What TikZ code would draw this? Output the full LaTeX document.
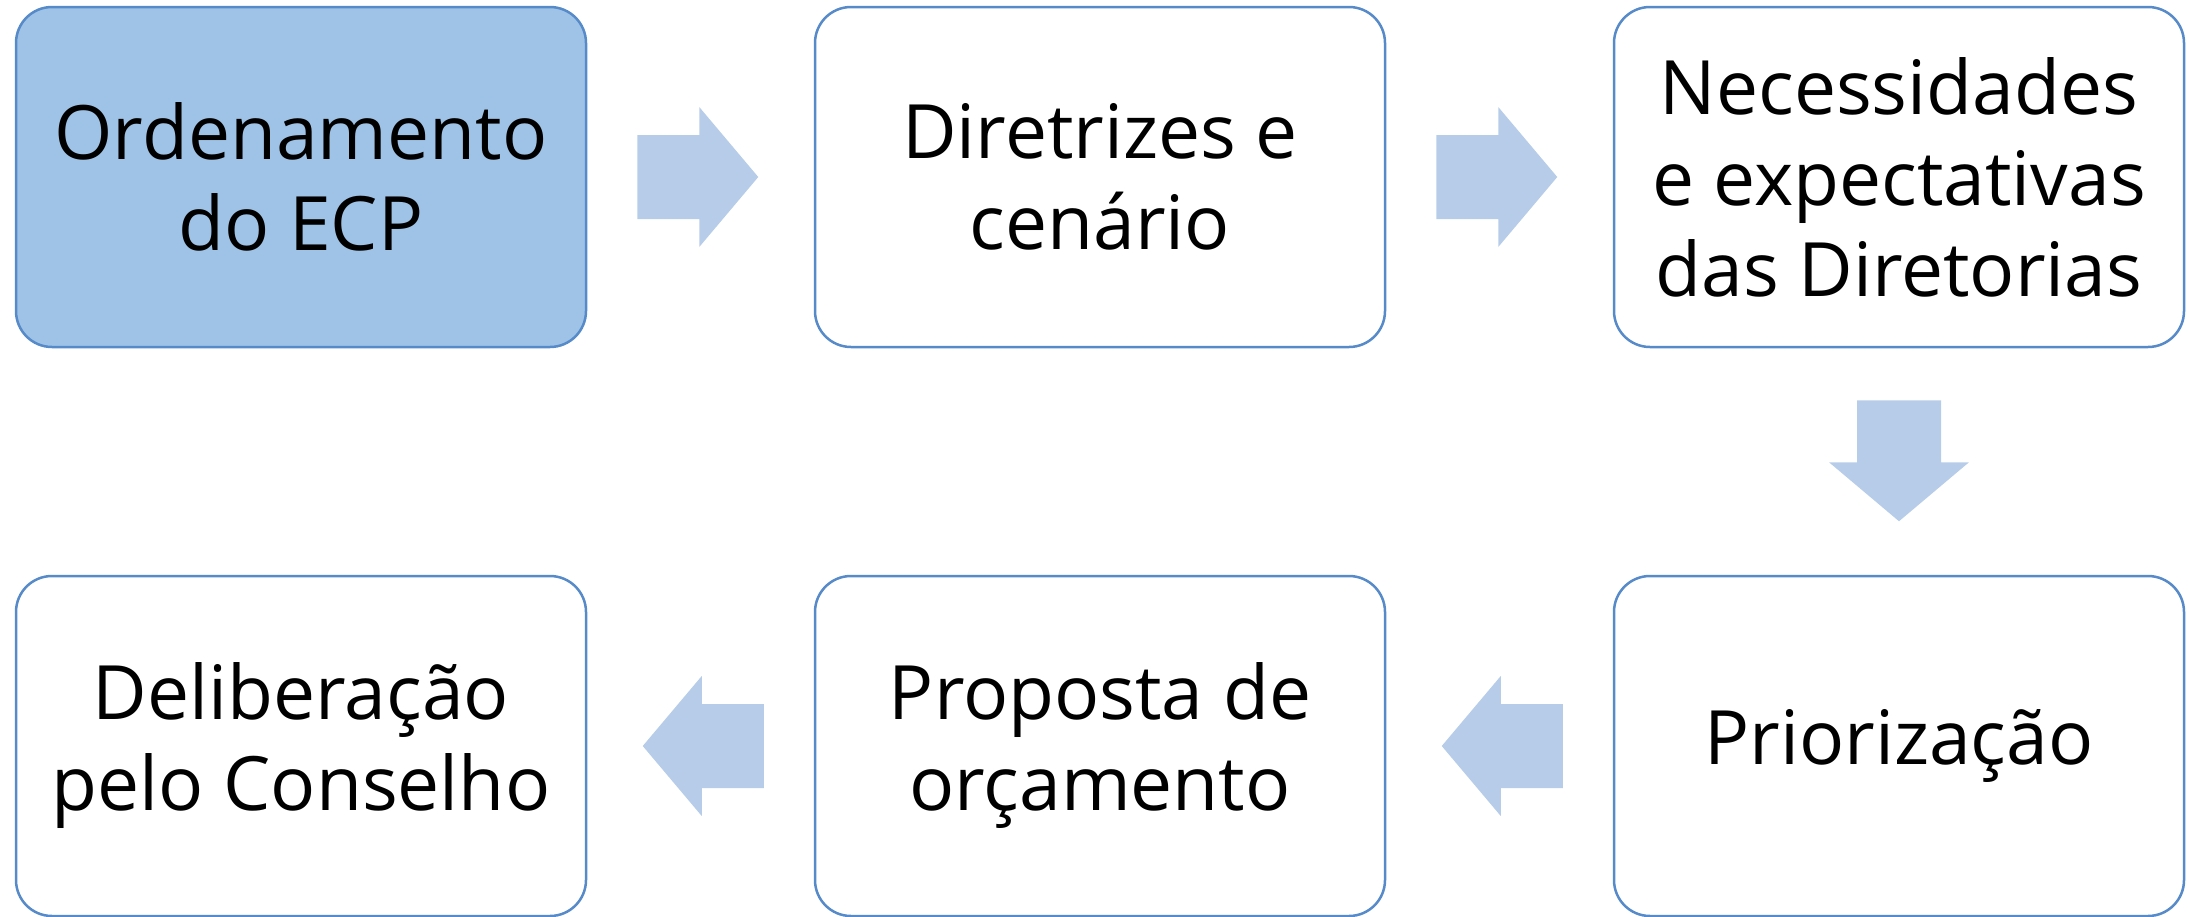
\documentclass[tikz,border=0pt]{standalone}
\usepackage{fontspec}
\setmainfont{Open Sans}
\usetikzlibrary{positioning}

\definecolor{boxline}{RGB}{86,138,200}
\definecolor{boxfill}{RGB}{158,195,230}
\definecolor{flowfill}{RGB}{182,204,232}

\tikzset{
  stepbox/.style={draw=boxline, line width=2.5pt, rounded corners=36pt,
    minimum width=570pt, minimum height=340pt, align=center,
    font=\fontsize{75}{91}\selectfont},
  flowarrow/.pic={
    \fill[flowfill] (0,-42) -- (62,-42) -- (62,-70) -- (121,0)
      -- (62,70) -- (62,42) -- (0,42) -- cycle;
  }
}

\begin{document}
\begin{tikzpicture}[x=1pt,y=1pt]

\useasboundingbox (0,0) rectangle (2188,-916);

% top row
\node[stepbox, fill=boxfill] (ordenamento) at (301,-177) {Ordenamento\\do ECP};
\node[stepbox, right=226.5pt of ordenamento] (diretrizes) {Diretrizes e\\cenário};
\node[stepbox, right=226.5pt of diretrizes] (necessidades) {Necessidades\\e expectativas\\das Diretorias};

% bottom row
\node[stepbox, below=226.5pt of necessidades] (priorizacao) {Priorização};
\node[stepbox, left=226.5pt of priorizacao] (proposta) {Proposta de\\orçamento};
\node[stepbox, left=226.5pt of proposta] (deliberacao) {Deliberação\\pelo Conselho};

% flow arrows
\pic at ([xshift=50pt]ordenamento.east) {flowarrow};
\pic at ([xshift=50pt]diretrizes.east) {flowarrow};
\pic[rotate=-90] at ([yshift=-52pt]necessidades.south) {flowarrow};
\pic[rotate=180] at ([xshift=-50pt]priorizacao.west) {flowarrow};
\pic[rotate=180] at ([xshift=-50pt]proposta.west) {flowarrow};

\end{tikzpicture}
\end{document}
